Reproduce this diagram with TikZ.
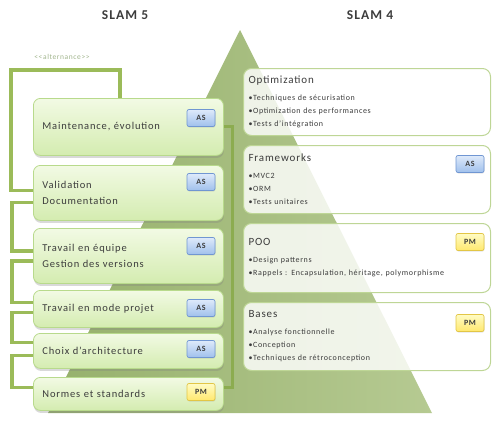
\documentclass[tikz,border=0pt]{standalone}
\usepackage{fontspec}
\setmainfont{Carlito}[LetterSpace=8]
\usetikzlibrary{shadows,calc}
\definecolor{brk}{RGB}{155,187,89}
\definecolor{brkr}{RGB}{140,172,80}
\definecolor{lbtop}{RGB}{242,250,228}
\definecolor{lbbot}{RGB}{212,236,176}
\definecolor{lbdraw}{RGB}{184,218,140}
\definecolor{astop}{RGB}{222,234,250}
\definecolor{asbot}{RGB}{160,192,236}
\definecolor{asdraw}{RGB}{112,150,210}
\definecolor{pmtop}{RGB}{255,252,196}
\definecolor{pmbot}{RGB}{255,232,110}
\definecolor{pmdraw}{RGB}{226,198,70}
\definecolor{rbdraw}{RGB}{190,214,150}
\definecolor{pyl}{RGB}{150,176,108}
\definecolor{pyr}{RGB}{182,202,146}
\definecolor{txt}{RGB}{60,60,60}
\definecolor{alt}{RGB}{160,180,140}
\pgfdeclarelayer{back}
\pgfdeclarelayer{mid}
\pgfsetlayers{back,mid,main}
\newcommand\rtitle{\fontsize{11}{13}\selectfont}
\begin{document}
\begin{tikzpicture}[x=1pt,y=-1pt,
  lbox/.style={draw=lbdraw,line width=0.8pt,rounded corners=7pt,top color=lbtop,bottom color=lbbot,
    anchor=north west,text width=172pt,inner xsep=9pt,inner ysep=0pt,align=left,
    font=\fontsize{10.5}{15.5}\selectfont,text=txt,
    drop shadow={shadow xshift=0.5pt,shadow yshift=-2.5pt,opacity=0.3}},
  rbox/.style={draw=rbdraw,line width=1pt,rounded corners=8pt,fill=white,fill opacity=0.82,text opacity=1,
    anchor=north west,text width=237pt,inner xsep=5pt,inner ysep=7pt,align=left,
    font=\fontsize{8}{13}\selectfont,text=txt},
  badge/.style={rounded corners=2pt,minimum width=28pt,minimum height=17pt,inner sep=0pt,
    font=\bfseries\fontsize{8}{8}\selectfont,text=txt,line width=0.7pt,
    drop shadow={shadow xshift=0.5pt,shadow yshift=-1pt,opacity=0.2}},
  asb/.style={badge,top color=astop,bottom color=asbot,draw=asdraw},
  pmb/.style={badge,top color=pmtop,bottom color=pmbot,draw=pmdraw},
  bracket/.style={draw=brk,line width=3.5pt},
  slam/.style={font=\bfseries\fontsize{13.5}{15}\selectfont,text=txt}]
\useasboundingbox (0,0) rectangle (493,421);

% pyramid
\begin{pgfonlayer}{back}
  \shade[left color=pyl,right color=pyr] (240,30) -- (432,413) -- (48,413) -- cycle;
\end{pgfonlayer}

% titles
\node[slam] (s5) at (125,15) {SLAM 5};
\node[slam] (s4) at (370,15) {SLAM 4};
\node[font=\fontsize{7.5}{8}\selectfont,text=alt] (altn) at (62,57) {<{}<alternance>{}>};

% left boxes
\node[lbox,minimum height=57pt] (L1) at (33,98) {Maintenance, évolution};
\node[lbox,minimum height=55pt] (L2) at (33,165) {Validation\\Documentation};
\node[lbox,minimum height=55pt] (L3) at (33,228) {Travail en équipe\\Gestion des versions};
\node[lbox,minimum height=37pt] (L4) at (33,290) {Travail en mode projet};
\node[lbox,minimum height=35pt] (L5) at (33,333) {Choix d'architecture};
\node[lbox,minimum height=33pt] (L6) at (33,377) {Normes et standards};

\node[asb] (b1) at (201,118) {AS};
\node[asb] (b2) at (201,182) {AS};
\node[asb] (b3) at (201,246) {AS};
\node[asb] (b4) at (201,308) {AS};
\node[asb] (b5) at (201,349) {AS};
\node[pmb] (b6) at (201,392) {PM};

% right boxes
\node[rbox,minimum height=67pt] (R1) at (243,68) {{\rtitle Optimization}\\[4pt]
  •Techniques de sécurisation\\•Optimization des performances\\•Tests d'intégration};
\node[rbox,minimum height=68pt] (R2) at (243,145) {{\rtitle Frameworks}\\[4pt]
  •MVC2\\•ORM\\•Tests unitaires};
\node[rbox,minimum height=69pt] (R3) at (243,223) {{\rtitle POO}\\[4pt]
  •Design patterns\\•Rappels : Encapsulation, héritage, polymorphisme};
\node[rbox,minimum height=68pt] (R4) at (243,302) {{\rtitle Bases}\\[4pt]
  •Analyse fonctionnelle\\•Conception\\•Techniques de rétroconception};

\node[asb] (r2b) at (470,164) {AS};
\node[pmb] (r3b) at (470,242) {PM};
\node[pmb] (r4b) at (470,323) {PM};

% brackets
\begin{pgfonlayer}{mid}
  \draw[bracket] ($(L1.north west)+(87,0)$) -- ++(0,-28) -- ++(-109,0) |- ([yshift=2.5pt]L2.west);
  \draw[bracket] ([yshift=-9.5pt]L2.west) -- ++(-21,0) |- ([yshift=5pt]L3.west);
  \draw[bracket] ([yshift=-5pt]L3.west) -- ++(-21,0) |- ([yshift=6.5pt]L4.west);
  \draw[bracket] ([yshift=-3.5pt]L4.west) -- ++(-21,0) |- ([yshift=8.5pt]L5.west);
  \draw[bracket] ([yshift=-4.5pt]L5.west) -- ++(-21,0) |- ([yshift=6.5pt]L6.west);
  \draw[bracket,draw=brkr,line width=3pt] (L1.east) -- ++(9,0) |- ([yshift=6.5pt]L6.east);
\end{pgfonlayer}
\end{tikzpicture}
\end{document}
